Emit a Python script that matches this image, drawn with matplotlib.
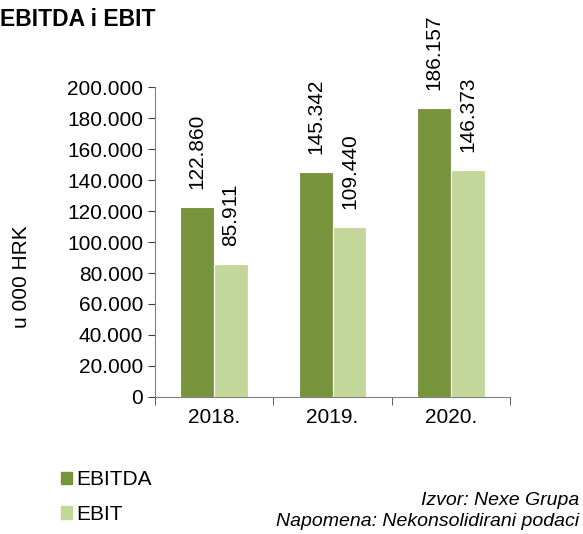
import matplotlib.pyplot as plt
import matplotlib.ticker as mticker
from matplotlib.patches import Patch
import numpy as np

plt.rcParams['font.family'] = ['Liberation Sans', 'DejaVu Sans']

# --- podaci ---
godine = ['2018.', '2019.', '2020.']
ebitda = [122860, 145342, 186157]
ebit = [85911, 109440, 146373]

boja_ebitda = '#77933C'
boja_ebit = '#C4D79B'

fig = plt.figure(figsize=(5.83, 5.34), dpi=100)
ax = fig.add_axes([0.2659, 0.2566, 0.6089, 0.5804])

x = np.arange(len(godine))
w = 0.285
b1 = ax.bar(x - w / 2, ebitda, w, color=boja_ebitda, edgecolor='white', linewidth=0.8)
b2 = ax.bar(x + w / 2, ebit, w, color=boja_ebit, edgecolor='white', linewidth=0.8)

def fmt(v):
    return f"{v:,.0f}".replace(',', '.')

for bars, vals in ((b1, ebitda), (b2, ebit)):
    for r, v in zip(bars, vals):
        ax.annotate(fmt(v), (r.get_x() + r.get_width() / 2, r.get_height()),
                    xytext=(0, 13), textcoords='offset points',
                    rotation=90, ha='center', va='bottom', fontsize=15,
                    annotation_clip=False)

ax.set_ylim(0, 200000)
ax.set_xlim(-0.5, len(godine) - 0.5)
ax.yaxis.set_major_locator(mticker.MultipleLocator(20000))
ax.yaxis.set_major_formatter(mticker.FuncFormatter(lambda v, p: fmt(v)))

# kategorije: oznake u sredini, crtice na granicama
ax.set_xticks(x)
ax.set_xticklabels(godine)
ax.set_xticks(np.arange(len(godine) + 1) - 0.5, minor=True)
ax.tick_params(axis='x', which='major', length=0, labelsize=15, pad=8)
ax.tick_params(axis='x', which='minor', length=6, color='#404040', direction='out')
ax.tick_params(axis='y', length=5, color='#404040', labelsize=15, direction='out')

for s in ('top', 'right'):
    ax.spines[s].set_visible(False)
for s in ('left', 'bottom'):
    ax.spines[s].set_color('#808080')

ax.text(-0.375, 0.387, 'u 000 HRK', transform=ax.transAxes, rotation=90,
        ha='center', va='center', fontsize=15)

fig.text(0.0, 0.985, 'EBITDA i EBIT', fontsize=16.5, fontweight='bold', ha='left', va='top')

handles = [Patch(color=boja_ebitda, label='EBITDA'), Patch(color=boja_ebit, label='EBIT')]
fig.legend(handles=handles, loc='upper left', bbox_to_anchor=(0.09, 0.135),
           frameon=False, fontsize=15, handlelength=0.55, handleheight=0.55,
           handletextpad=0.2, labelspacing=0.75, borderaxespad=0)

fig.text(0.993, 0.062, 'Izvor: Nexe Grupa', fontsize=14, style='italic', ha='right', va='center')
fig.text(0.993, 0.023, 'Napomena: Nekonsolidirani podaci', fontsize=14, style='italic', ha='right', va='center')

fig.savefig('out.png', dpi=100)
